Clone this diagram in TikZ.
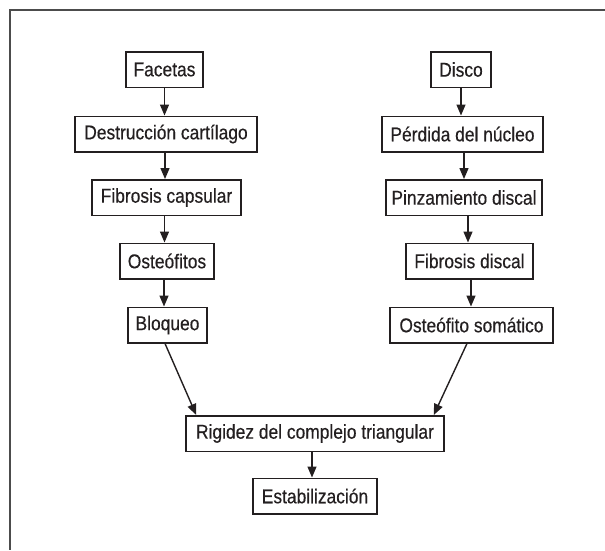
\documentclass[tikz,border=0pt]{standalone}
\usepackage{fontspec}
\setmainfont{Liberation Sans}[FakeStretch=0.87,FakeBold=0.4]
\usetikzlibrary{arrows.meta,calc}
\definecolor{ink}{HTML}{231F20}
\begin{document}
\begin{tikzpicture}[x=1pt,y=-1pt,
  box/.style={draw=ink,line width=1.5pt,inner sep=0pt,minimum height=35.5pt,
    text=ink,font=\fontsize{20}{24}\selectfont,anchor=center},
  arr/.style={draw=ink,line width=1.4pt,-{Triangle[length=11pt,width=9pt]}},
  frame/.style={draw=black!70,line width=1.5pt}]
\useasboundingbox (0,0) rectangle (605,550);
\coordinate (ftr) at (605,10);
\coordinate (fc) at (10,10);
\coordinate (fbl) at (10,550);
\draw[frame] (ftr) -- (fc) -- (fbl);
% left column
\node[box,minimum width=77pt]  (fa) at (164.5,69.5) {Facetas};
\node[box,minimum width=182pt] (dc) at (166,134) {Destrucción cartílago};
\node[box,minimum width=149pt] (fc2) at (166.5,197.5) {Fibrosis capsular};
\node[box,minimum width=94pt]  (os) at (167,261) {Osteófitos};
\node[box,minimum width=79pt]  (bl) at (167.5,325) {Bloqueo};
% right column
\node[box,minimum width=60pt]  (di) at (461,69.5) {Disco};
\node[box,minimum width=161pt] (pn) at (462.5,134) {Pérdida del núcleo};
\node[box,minimum width=156pt] (pd) at (464,197.5) {Pinzamiento discal};
\node[box,minimum width=127pt] (fd) at (469.5,261) {Fibrosis discal};
\node[box,minimum width=163pt] (ost) at (471.5,325) {Osteófito somático};
% bottom
\node[box,minimum width=258pt] (ri) at (315,433.5) {Rigidez del complejo triangular};
\node[box,minimum width=124pt] (es) at (315,496) {Estabilización};
% arrows
\draw[arr] (fa.south) -- (fa.south |- dc.north);
\draw[arr] ([xshift=-1pt]dc.south) -- ([xshift=-1pt]dc.south |- fc2.north);
\draw[arr] ([xshift=-2pt]fc2.south) -- ([xshift=-2pt]fc2.south |- os.north);
\draw[arr] ([xshift=-3pt]os.south) -- ([xshift=-3pt]os.south |- bl.north);
\draw[arr] (di.south) -- (di.south |- pn.north);
\draw[arr] ([xshift=1.5pt]pn.south) -- ([xshift=1.5pt]pn.south |- pd.north);
\draw[arr] ([xshift=4pt]pd.south) -- ([xshift=4pt]pd.south |- fd.north);
\draw[arr] ([xshift=1.5pt]fd.south) -- ([xshift=1.5pt]fd.south |- ost.north);
\draw[arr] ([xshift=-2.5pt]bl.south) -- ([xshift=11pt]ri.north west);
\draw[arr] ([xshift=-4.5pt]ost.south) -- ([xshift=-11pt]ri.north east);
\draw[arr] ([xshift=-3pt]ri.south) -- ([xshift=-3pt]ri.south |- es.north);
\end{tikzpicture}
\end{document}
